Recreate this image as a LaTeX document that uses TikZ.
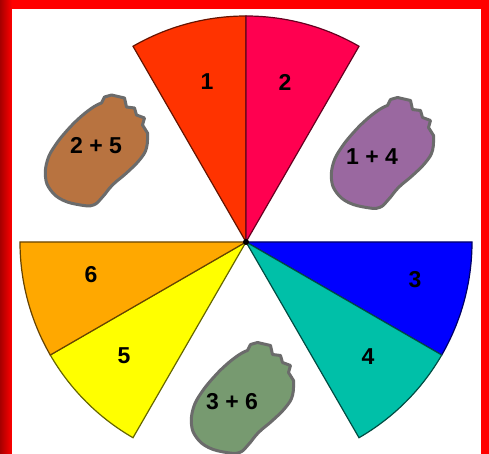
\documentclass[tikz,border=0pt]{standalone}
\usepackage{fontspec}
\setmainfont{Liberation Sans}
\definecolor{wedgeone}{HTML}{FF3300}
\definecolor{wedgetwo}{HTML}{FF0050}
\definecolor{wedgethree}{HTML}{0000FF}
\definecolor{wedgefour}{HTML}{00C0A8}
\definecolor{wedgefive}{HTML}{FFFF00}
\definecolor{wedgesix}{HTML}{FFA800}
\definecolor{blobbrown}{HTML}{B87340}
\definecolor{blobpurple}{HTML}{9A68A0}
\definecolor{blobgreen}{HTML}{779A70}
\tikzset{
  every node/.style={font=\fontsize{23}{26}\selectfont\bfseries},
  wedge/.style={line width=1.2pt, draw=#1!40!black, fill=#1},
  blobline/.style={line width=3pt, draw=black!58, line join=round},
  pics/blob/.style={code={
    \draw[blobline, fill=#1] plot[smooth, tension=0.7] coordinates {(51,17) (50,2) (43,-10) (30,-23) (16,-35) (6,-47) (-3,-55) (-16,-55) (-34,-50) (-46,-40) (-51,-27) (-49,-10) (-41,5) (-29,20) (-16,33) (-3,43) (5,47)}
      -- (8,53) -- (15,55) -- (28,52) -- (30,43) -- (38,42) -- (40,35) -- (48,32) -- (46,25) -- cycle;
  }},
}

\begin{document}
\begin{tikzpicture}[x=1pt,y=1pt]
  % frame
  \fill[red] (0,0) rectangle (489,454);
  \shade[left color=red!65!black, right color=red] (0,0) rectangle (12,454);
  \fill[white] (12,0) rectangle (481,445);
  \useasboundingbox (0,0) rectangle (489,454);

  % wedges
  \coordinate (hub) at (246,212);
  \foreach \from/\to/\col in {90/120/wedgeone, 60/90/wedgetwo, -30/0/wedgethree, -60/-30/wedgefour, 210/240/wedgefive, 180/210/wedgesix}
    \draw[wedge=\col] (hub) -- ++(\from:226) arc[start angle=\from, end angle=\to, radius=226] -- cycle;
  \fill (hub) circle (3);

  \node (one) at (207,372) {1};
  \node (two) at (285,372) {2};
  \node (three) at (415,174) {3};
  \node (four) at (368,97) {4};
  \node (five) at (124,98) {5};
  \node (six) at (91,179) {6};

  % blobs
  \pic at (96.5,304) {blob=blobbrown};
  \node (twofive) at (96,308) {2 + 5};
  \pic at (382.5,301.5) {blob=blobpurple};
  \node (onefour) at (372,297) {1 + 4};
  \pic at (242.5,56.5) {blob=blobgreen};
  \node (threesix) at (232,52) {3 + 6};
\end{tikzpicture}
\end{document}
